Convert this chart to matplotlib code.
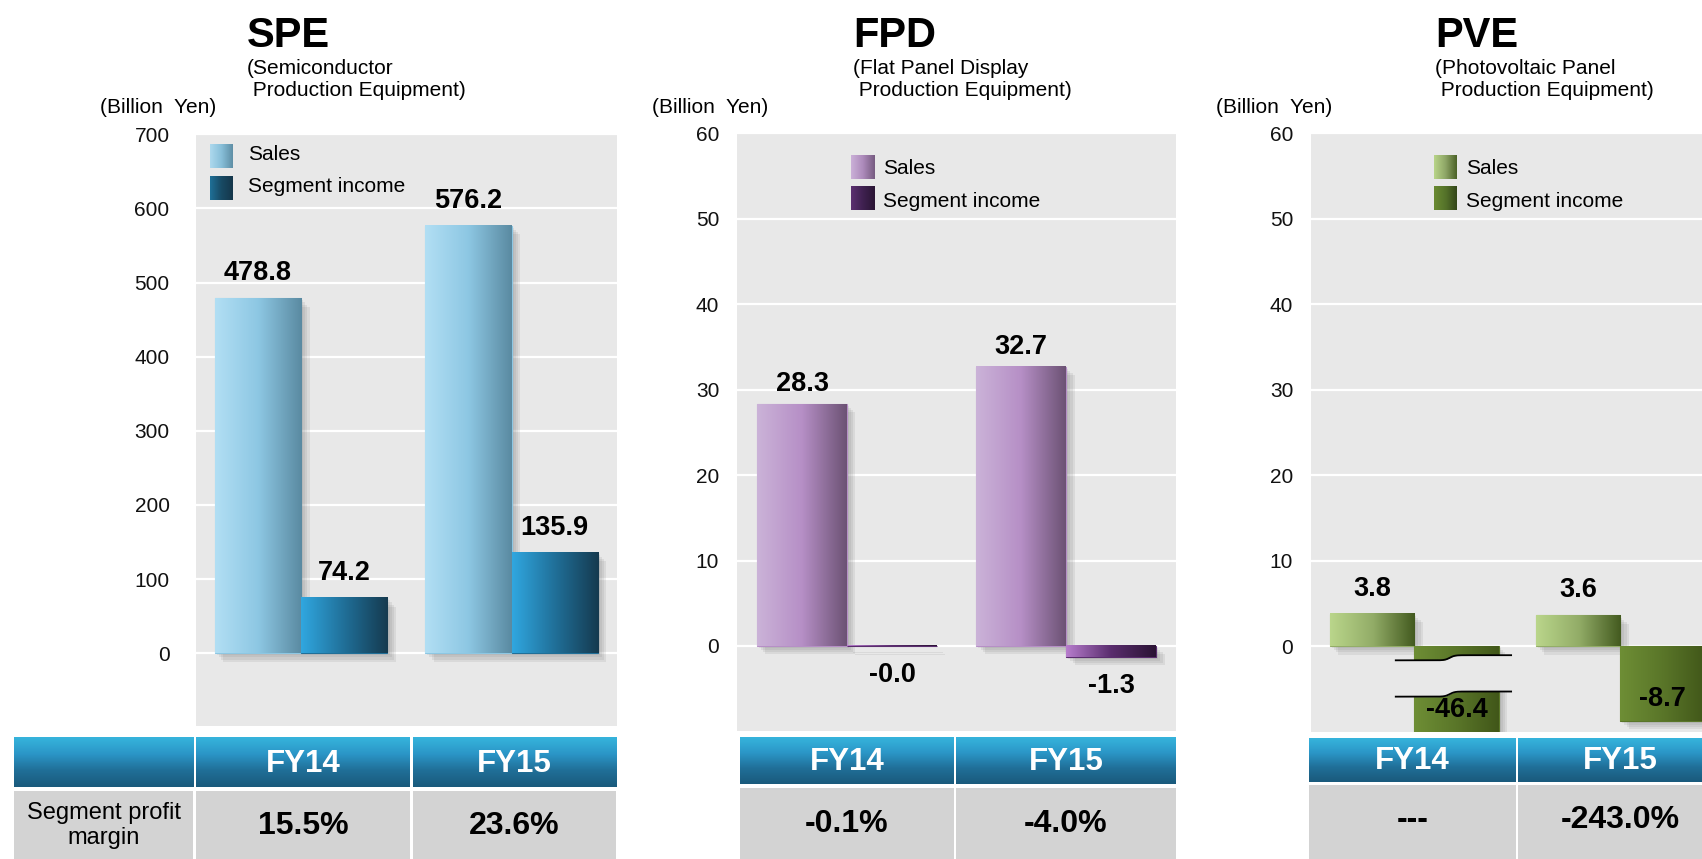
import numpy as np
import matplotlib
matplotlib.use("Agg")
from matplotlib import pyplot as plt
from matplotlib.colors import LinearSegmentedColormap
from matplotlib.patches import Rectangle
from matplotlib import patheffects

plt.rcParams['font.family'] = ['Liberation Sans', 'DejaVu Sans']

W, H = 1702, 859

# data
years = ["FY14", "FY15"]
speSales = [478.8, 576.2]
speIncome = [74.2, 135.9]
speMargin = ["15.5%", "23.6%"]
speTicks = [0, 100, 200, 300, 400, 500, 600, 700]

fpdSales = [28.3, 32.7]
fpdIncome = [-0.04, -1.3]
fpdMargin = ["-0.1%", "-4.0%"]
fpdTicks = [0, 10, 20, 30, 40, 50, 60]

pveSales = [3.8, 3.6]
pveIncome = [-46.4, -8.7]
pveMargin = ["---", "-243.0%"]
pveTicks = [0, 10, 20, 30, 40, 50, 60]

BG = '#e8e8e8'
CELL = '#d3d3d3'
HEADER = ['#36b4dc', '#2b96c7', '#206f98', '#1a5a7c']
GRAD = np.linspace(0, 1, 256).reshape(1, -1)

# soft drop shadow made of a few faint layers
SHADOW = [patheffects.SimplePatchShadow(offset=(d, -d), shadow_rgbFace='#7a7a7a', alpha=0.13)
          for d in (1.5, 3, 4.5, 6)] + [patheffects.Normal()]


def pxRect(left, top, right, bottom):
    return [left / W, 1 - bottom / H, (right - left) / W, (bottom - top) / H]


def gradientBars(ax, xs, vals, colors, width, ylo):
    cmap = LinearSegmentedColormap.from_list("bar", colors)
    bars = ax.bar(xs, vals, width=width, color=colors[len(colors) // 2],
                  edgecolor=colors[len(colors) // 2], linewidth=0.8, zorder=3)
    for b in bars:
        b.set_path_effects(SHADOW)
        x0 = b.get_x()
        y0, y1 = sorted([b.get_y(), b.get_y() + b.get_height()])
        y0 = max(y0, ylo)
        ax.imshow(GRAD, extent=[x0, x0 + b.get_width(), y0, y1],
                  aspect='auto', cmap=cmap, zorder=3.1, interpolation='bicubic')
    return bars


def drawBreak(ax, bar, yTop, yBottom):
    xs = np.linspace(bar.get_x() - 0.09, bar.get_x() + bar.get_width() + 0.06, 150)
    mid = bar.get_x() + 0.42 * bar.get_width()
    step = 1 / (1 + np.exp(-(xs - mid) / 0.012))
    upper = yTop - 0.3 + 0.6 * step
    lower = yBottom - 0.3 + 0.6 * step
    ax.fill_between(xs, lower, upper, color=BG, linewidth=0, zorder=6)
    ax.plot(xs, upper, color='black', lw=1.3, zorder=7)
    ax.plot(xs, lower, color='black', lw=1.3, zorder=7)


def drawPanel(fig, ov, title, subLines, titleX, unitX, sales, income, margins, ticks, ylim,
              rect, tickPad, salesColors, incomeColors, legendColors, legendBox, legendTextX,
              legendBase, labelOff, tableHeader, tableBody, cols, rowLabel=None, firstCol=None):
    left, top, right, bottom = rect
    ax = fig.add_axes(pxRect(left, top, right, bottom))
    ax.set_facecolor(BG)
    for s in ax.spines.values():
        s.set_visible(False)
    ax.set_yticks(ticks)
    ax.set_xticks([])
    ax.tick_params(axis='y', length=0, labelsize=15, pad=tickPad, labelcolor='#111111')
    ax.grid(axis='y', color='white', linewidth=1.6)
    ax.set_axisbelow(True)

    xs = np.arange(len(years))
    width = 0.41
    sBars = gradientBars(ax, xs - width / 2, sales, salesColors, width, ylim[0])
    iBars = gradientBars(ax, xs + width / 2, income, incomeColors, width, ylim[0])

    for b, v in zip(sBars, sales):
        ax.annotate(f"{v:.1f}", (b.get_x() + b.get_width() / 2, v), xytext=(0, labelOff),
                    textcoords='offset pixels', ha='center', va='baseline',
                    fontsize=19.5, fontweight='bold', zorder=8)
    for b, v in zip(iBars, income):
        cx = b.get_x() + b.get_width() / 2
        if v >= 0:
            ax.annotate(f"{v:.1f}", (cx, v), xytext=(0, labelOff), textcoords='offset pixels',
                        ha='center', va='baseline', fontsize=19.5, fontweight='bold', zorder=8)
        elif title == "PVE":
            # label sits inside the bar, near its visible end
            ax.annotate(f"{v:.1f}", (cx, max(v, ylim[0])), xytext=(0, 15), textcoords='offset pixels',
                        ha='center', va='baseline', fontsize=19.5, fontweight='bold', zorder=8)
            if v < ylim[0]:
                drawBreak(ax, b, -1.35, -5.6)
        else:
            ax.annotate(f"{v:.1f}", (cx, v), xytext=(0, -16), textcoords='offset pixels',
                        ha='center', va='top', fontsize=19.5, fontweight='bold', zorder=8)

    ax.set_xlim(-0.5, 1.5)
    ax.set_ylim(*ylim)

    # headings
    ov.text(titleX, 46.7, title, fontsize=30, fontweight='bold', ha='left', va='baseline')
    ov.text(titleX, 74, subLines[0], fontsize=15, ha='left', va='baseline')
    ov.text(titleX, 96, subLines[1], fontsize=15, ha='left', va='baseline')
    ov.text(unitX, 112.7, "(Billion  Yen)", fontsize=15, ha='left', va='baseline')

    # legend
    lx0, lx1, ly = legendBox
    for k, (label, cols2) in enumerate(zip(["Sales", "Segment income"], legendColors)):
        y0 = ly[k]
        ov.imshow(GRAD, extent=[lx0, lx1, y0 + 23.7, y0], aspect='auto', zorder=11,
                  cmap=LinearSegmentedColormap.from_list("leg", cols2), interpolation='bicubic')
        ov.text(legendTextX, legendBase[k], label, fontsize=15, ha='left', va='baseline', zorder=12)

    # table under the chart
    hTop, hBot = tableHeader
    bTop = tableBody
    hcmap = LinearSegmentedColormap.from_list("hdr", HEADER)
    hgrad = np.linspace(0, 1, 64).reshape(-1, 1)
    allCols = ([firstCol] if firstCol else []) + cols
    for c0, c1 in allCols:
        ov.imshow(hgrad, extent=[c0, c1, hBot, hTop], aspect='auto', cmap=hcmap, zorder=11)
        ov.add_patch(Rectangle((c0, bTop), c1 - c0, H - bTop, facecolor=CELL, edgecolor='none', zorder=11))
    for (c0, c1), yr, m in zip(cols, years, margins):
        ov.text((c0 + c1) / 2, (hTop + hBot) / 2 + 1, yr, fontsize=22.5, fontweight='bold',
                color='white', ha='center', va='center', zorder=12)
        ov.text((c0 + c1) / 2, bTop + 36, m, fontsize=23, fontweight='bold',
                ha='center', va='center', zorder=12)
    if firstCol:
        ov.text((firstCol[0] + firstCol[1]) / 2, bTop + 35, rowLabel, fontsize=17,
                ha='center', va='center', linespacing=1.15, zorder=12)


fig = plt.figure(figsize=(W / 100, H / 100), dpi=100)
ov = fig.add_axes([0, 0, 1, 1], zorder=10)
ov.patch.set_alpha(0)
ov.axis('off')

drawPanel(fig, ov, "SPE", ["(Semiconductor", " Production Equipment)"], 247, 100,
          speSales, speIncome, speMargin, speTicks, (-97.7, 700),
          (196, 134.3, 616.7, 725.7), 19,
          ['#b2dff4', '#8dc7e3', '#5a8aa1'], ['#30a7e0', '#206f98', '#153a4f'],
          [['#add9ee', '#88bfd9', '#5e8ea5'], ['#1f7098', '#184a64', '#15364a']],
          (210, 232.7, [144, 176]), 248.3, [160, 192.3], 18,
          (737.5, 787.5), 790.5, [(196, 410), (412.7, 616)],
          rowLabel="Segment profit\nmargin", firstCol=(14, 193.3))

drawPanel(fig, ov, "FPD", ["(Flat Panel Display", " Production Equipment)"], 853, 652.3,
          fpdSales, fpdIncome, fpdMargin, fpdTicks, (-9.95, 60),
          (737.3, 133.3, 1176, 731), 13,
          ['#cbb3d8', '#b68fc6', '#6c5274'], ['#b77dcd', '#5a2d6e', '#2b1334'],
          [['#cbb0d8', '#ad8bbb', '#765b80'], ['#5c3071', '#3f2150', '#2a1534']],
          (851, 875, [155, 186]), 883.3, [174, 206.7], 13,
          (738, 784.5), 787.5, [(740, 953.5), (956, 1176)])

drawPanel(fig, ov, "PVE", ["(Photovoltaic Panel", " Production Equipment)"], 1435, 1215.7,
          pveSales, pveIncome, pveMargin, pveTicks, (-10.0, 60),
          (1311.3, 133.3, 1723.3, 731.7), 13,
          ['#bad68b', '#93ad68', '#435a1f'], ['#6e8e35', '#5a7629', '#415719'],
          [['#b9d589', '#8ea667', '#4a6126'], ['#6a8a32', '#55732a', '#33461a']],
          (1434, 1457, [155, 186]), 1465.7, [174, 206.7], 18,
          (737.7, 781.7), 784.5, [(1309, 1515.7), (1518, 1723.3)])

ov.set_xlim(0, W)
ov.set_ylim(H, 0)

fig.savefig("out.png", dpi=100)
